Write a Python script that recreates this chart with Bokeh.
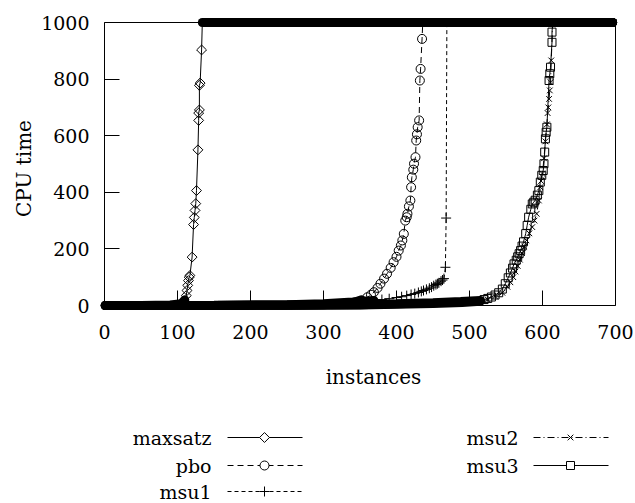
import numpy as np
from bokeh.plotting import figure
from bokeh.models import FixedTicker, Range1d, Label
from bokeh.embed import file_html
from bokeh.resources import INLINE
from bokeh.core.properties import value

# ---------------- data ----------------
SOLVERS = ["maxsatz", "pbo", "msu1", "msu2", "msu3"]
X_TICKS = [0, 100, 200, 300, 400, 500, 600, 700]
Y_TICKS = [0, 200, 400, 600, 800, 1000]
X_LABEL = "instances"
Y_LABEL = "CPU time"
TIMEOUT = 1000

maxsatz_x = [1, 50, 90, 105, 110, 112, 113, 114, 115, 116, 117, 120, 122, 123, 124, 125, 126, 128, 129, 129,
             130, 130, 131, 133, 134, 696]
maxsatz_y = [0, 0, 2, 6, 20, 35, 53, 71, 88, 100, 106, 171, 286, 311, 336, 360, 406, 550, 654, 680,
             691, 778, 786, 903, 1000, 1000]

pbo_x = [1, 150, 250, 300, 340, 352, 360, 365, 369, 374, 378, 383, 387, 392, 396, 400, 403, 406, 408, 410,
         412, 414, 415, 417, 419, 420, 421, 423, 424, 426, 427, 428, 429, 431, 432, 433, 435, 436, 696]
pbo_y = [0, 0, 1, 3, 10, 20, 29, 38, 47, 62, 77, 95, 112, 133, 153, 172, 194, 212, 230, 253,
         300, 312, 324, 350, 371, 418, 453, 480, 501, 524, 583, 605, 630, 654, 795, 836, 942, 1000, 1000]

msu1_x = [1, 150, 250, 300, 340, 369, 380, 390, 400, 407, 414, 420, 425, 430, 434, 437, 441, 445, 448, 451,
          454, 456, 458, 461, 463, 465, 467, 468, 469, 696]
msu1_y = [0, 1, 3, 6, 12, 18, 21, 24, 28, 31, 35, 39, 42, 46, 50, 53, 57, 61, 65, 70,
          74, 77, 80, 86, 90, 95, 135, 309, 1000, 1000]

msu2_x = [1, 150, 250, 350, 400, 450, 490, 515, 525, 535, 545, 552, 556, 560, 563, 566, 569, 572, 575, 578,
          582, 586, 589, 592, 595, 597, 598, 600, 602, 604, 606, 607, 608, 609, 610, 611, 612, 614, 696]
msu2_y = [0, 0, 1, 2, 4, 7, 11, 15, 21, 32, 45, 66, 82, 100, 120, 140, 162, 185, 208, 230,
          255, 277, 300, 324, 371, 418, 440, 465, 520, 580, 640, 680, 700, 730, 760, 789, 866, 1000, 1000]

msu3_x = [1, 150, 250, 350, 400, 450, 488, 515, 520, 525, 530, 535, 540, 545, 549, 553, 556, 559, 561, 564,
          566, 568, 570, 572, 574, 577, 579, 581, 584, 586, 588, 590, 593, 595, 597, 599, 601, 602, 603, 604,
          605, 606, 609, 610, 611, 613, 613, 614, 696]
msu3_y = [0, 0, 1, 3, 6, 10, 14, 18, 21, 25, 30, 37, 45, 58, 77, 98, 115, 132, 147, 160,
          172, 183, 194, 210, 225, 254, 283, 312, 340, 359, 365, 372, 390, 406, 436, 460, 477, 501, 542, 589,
          612, 630, 795, 819, 842, 930, 966, 1000, 1000]

DATA = {
    "maxsatz": (maxsatz_x, maxsatz_y),
    "pbo": (pbo_x, pbo_y),
    "msu1": (msu1_x, msu1_y),
    "msu2": (msu2_x, msu2_y),
    "msu3": (msu3_x, msu3_y),
}

# ---------------- styles / layout ----------------
FONT = "DejaVu Serif"
FS = "19px"
FS_TITLE = "20px"
INK = "black"
STYLE = {
    "maxsatz": dict(marker="square", size=7, angle=np.pi / 4, dash="solid"),
    "pbo": dict(marker="circle", size=9, angle=0.0, dash="6 4"),
    "msu1": dict(marker="cross", size=10, angle=0.0, dash="4 3"),
    "msu2": dict(marker="x", size=8, angle=0.0, dash="7 3 1 3"),
    "msu3": dict(marker="square", size=8, angle=0.0, dash="solid"),
}
LOW_T = 20        # near-zero run drawn as dense band (overlapping markers)
BAND_W = 9

W, H = 635, 503
X0_PX, X1_PX = 104, 615      # canvas px of x = 0 and x = 700
Y1_PX, Y0_PX = 22, 305       # canvas px (from top) of y = 1000 and y = 0

sx = (X1_PX - X0_PX) / (X_TICKS[-1] - X_TICKS[0])
sy = (Y0_PX - Y1_PX) / (Y_TICKS[-1] - Y_TICKS[0])


def to_data(fx, fy):
    return X_TICKS[0] + (fx - X0_PX) / sx, Y_TICKS[0] + (Y0_PX - fy) / sy


xa, ya = to_data(0, H)
xb, yb = to_data(W, 0)
p = figure(width=W, height=H, x_range=Range1d(xa, xb), y_range=Range1d(ya, yb),
           toolbar_location=None, output_backend="svg", min_border=0)
p.outline_line_color = None
p.grid.visible = False
p.background_fill_color = "white"
p.border_fill_color = "white"

for axes, ticks, stand in ((p.xaxis, X_TICKS, 19), (p.yaxis, Y_TICKS, 15)):
    axes.ticker = FixedTicker(ticks=ticks)
    axes.bounds = (ticks[0], ticks[-1])
    axes.major_tick_in = 15
    axes.major_tick_out = 0
    axes.minor_tick_line_color = None
    axes.axis_line_color = INK
    axes.major_tick_line_color = INK
    axes.major_label_text_font = FONT
    axes.major_label_text_font_size = FS
    axes.major_label_text_font_style = "normal"
    axes.major_label_text_color = INK
    axes.major_label_standoff = stand
p.xaxis.fixed_location = Y_TICKS[0]
p.yaxis.fixed_location = X_TICKS[0]

# top and right edges of the box
p.line(x=[X_TICKS[0], X_TICKS[-1], X_TICKS[-1]], y=[Y_TICKS[-1], Y_TICKS[-1], Y_TICKS[0]],
       line_color=INK, line_width=1)

for name in SOLVERS:
    xs = np.array(DATA[name][0], dtype=float)
    ys = np.array(DATA[name][1], dtype=float)
    st = STYLE[name]
    low = ys <= LOW_T
    cap = ys >= TIMEOUT
    mid = ~low & ~cap
    p.line(xs, ys, line_color=INK, line_width=1, line_dash=st["dash"])
    p.line(xs[low], ys[low], line_color=INK, line_width=BAND_W, line_cap="round")
    p.line(xs[cap], ys[cap], line_color=INK, line_width=BAND_W, line_cap="round")
    p.scatter(xs[mid], ys[mid], marker=st["marker"], size=st["size"], angle=st["angle"],
              fill_color=None, line_color=INK, line_width=1)

lx, ly = to_data(373, 376)
p.add_layout(Label(x=lx, y=ly, text=X_LABEL, text_align="center", text_baseline="middle",
                   text_font=FONT, text_font_size=FS_TITLE, text_font_style="normal", text_color=INK))
lx, ly = to_data(23, 168)
p.add_layout(Label(x=lx, y=ly, text=Y_LABEL, angle=np.pi / 2, text_align="center",
                   text_baseline="middle", text_font=FONT, text_font_size=FS_TITLE,
                   text_font_style="normal", text_color=INK))

# ---------------- legend (below the axes, in canvas pixels) ----------------
LEG_COLS = [dict(text_r=211, l0=227, l1=302, m=264), dict(text_r=518, l0=533, l1=608, m=570)]
LEG_ROWS = [437, 465, 491]
LEG_POS = {"maxsatz": (0, 0), "pbo": (0, 1), "msu1": (0, 2), "msu2": (1, 0), "msu3": (1, 1)}

for name in SOLVERS:
    c, r = LEG_POS[name]
    col = LEG_COLS[c]
    st = STYLE[name]
    tx, ty = to_data(col["text_r"], LEG_ROWS[r])
    ax0, _ = to_data(col["l0"], LEG_ROWS[r])
    ax1, _ = to_data(col["l1"], LEG_ROWS[r])
    mx, _ = to_data(col["m"], LEG_ROWS[r])
    p.text(x=[tx], y=[ty], text=[name], text_align="right", text_baseline="middle",
           text_font=value(FONT), text_font_size=value(FS), text_font_style="normal", text_color=INK)
    p.line(x=[ax0, ax1], y=[ty, ty], line_color=INK, line_width=1, line_dash=st["dash"])
    p.scatter(x=[mx], y=[ty], marker=st["marker"], size=st["size"], angle=st["angle"],
              fill_color="white", line_color=INK, line_width=1)

open("out.html", "w").write(file_html(p, INLINE))
